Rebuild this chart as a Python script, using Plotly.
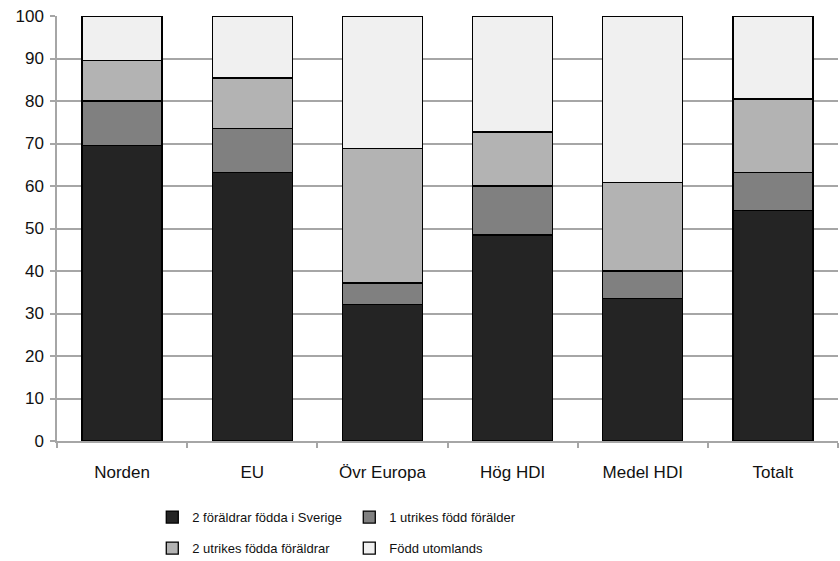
import plotly.graph_objects as go

categories = ["Norden", "EU", "Övr Europa", "Hög HDI", "Medel HDI", "Totalt"]
series_names = ["2 föräldrar födda i Sverige", "1 utrikes född förälder",
                "2 utrikes födda föräldrar", "Född utomlands"]
s1 = [69.6, 63.1, 32.1, 48.5, 33.6, 54.2]
s2 = [10.4, 10.5, 5.1, 11.5, 6.4, 8.9]
s3 = [9.6, 11.8, 31.7, 12.7, 20.9, 17.4]
s4 = [10.4, 14.6, 31.1, 27.3, 39.1, 19.5]
y_ticks = [0, 10, 20, 30, 40, 50, 60, 70, 80, 90, 100]

colors = ["#242424", "#808080", "#b3b3b3", "#f0f0f0"]
values = [s1, s2, s3, s4]
legends = ["legend", "legend", "legend2", "legend2"]

fig = go.Figure()
for name, vals, col, lg in zip(series_names, values, colors, legends):
    fig.add_trace(go.Bar(
        x=categories, y=vals, name=name, legend=lg,
        marker=dict(color=col, line=dict(color="#000000", width=1.3)),
    ))

font = dict(family="Liberation Sans, Arial, sans-serif", color="#111111")
leg_common = dict(orientation="h", xanchor="left", yanchor="middle",
                  entrywidth=152, entrywidthmode="pixels",
                  font=dict(size=13, **font), itemclick=False, traceorder="normal")
fig.update_layout(
    barmode="stack",
    bargap=0.385,
    width=840, height=561,
    margin=dict(l=57, r=2, t=16, b=120, autoexpand=False),
    plot_bgcolor="white", paper_bgcolor="white",
    font=dict(size=17, **font),
    showlegend=True,
    legend=dict(x=0.122, y=-0.179, **leg_common),
    legend2=dict(x=0.122, y=-0.252, **leg_common),
)
fig.update_yaxes(range=[0, 100], tickvals=y_ticks, showgrid=True,
                 gridcolor="#a6a6a6", gridwidth=1.5,
                 showline=True, linecolor="#a6a6a6", linewidth=1.5,
                 ticks="outside", ticklen=5, tickcolor="#a6a6a6", tickwidth=1.5,
                 ticklabelstandoff=3, automargin=False,
                 tickfont=dict(size=17, **font), zeroline=False, fixedrange=True)
fig.update_xaxes(showline=True, linecolor="#a6a6a6", linewidth=1.5,
                 ticks="outside", tickson="boundaries", ticklen=5,
                 tickcolor="#a6a6a6", tickwidth=1.5, ticklabelstandoff=15,
                 automargin=False,
                 tickfont=dict(size=17, **font), fixedrange=True)

fig.write_html("out.html", config={"displayModeBar": False},
               post_script="document.body.style.margin='0';")
